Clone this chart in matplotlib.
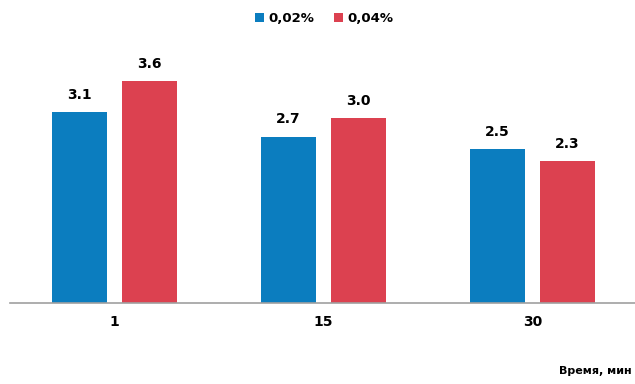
import numpy as np
import matplotlib.pyplot as plt

categories = ['1', '15', '30']
series_names = ['0,02%', '0,04%']
vals_002 = [3.1, 2.7, 2.5]
vals_004 = [3.6, 3.0, 2.3]
colors = ['#0b7dbf', '#dc4150']

fig = plt.figure(figsize=(6.35, 3.84), dpi=100)
ax = fig.add_axes([0.016, 0.211, 0.987, 0.641])

x = np.arange(len(categories))
w = 0.265
off = 0.1675
b1 = ax.bar(x - off, vals_002, w, color=colors[0], label=series_names[0])
b2 = ax.bar(x + off, vals_004, w, color=colors[1], label=series_names[1])

for bars, vals in [(b1, vals_002), (b2, vals_004)]:
    for r, v in zip(bars, vals):
        ax.text(r.get_x() + r.get_width() / 2, v + 0.17, f'{v:.1f}',
                ha='center', va='bottom', fontsize=10, fontweight='bold')

ax.set_xlim(-0.5, 2.5)
ax.set_ylim(0, 4)
ax.set_xticks(x)
ax.set_xticklabels(categories, fontsize=10, fontweight='bold')
ax.tick_params(axis='x', length=0, pad=9)
ax.set_yticks([])
for s in ['top', 'right', 'left']:
    ax.spines[s].set_visible(False)
ax.spines['bottom'].set_color('#a0a0a0')
ax.spines['bottom'].set_linewidth(1.2)

fig.legend(loc='upper center', bbox_to_anchor=(0.51, 1.0), ncol=2, frameon=False,
           prop={'weight': 'bold', 'size': 9.5}, handlelength=0.7, handleheight=0.7,
           columnspacing=1.5, handletextpad=0.3)

fig.text(0.995, 0.02, 'Время, мин', ha='right', va='bottom', fontsize=8, fontweight='bold')

fig.savefig('out.png', dpi=100)
